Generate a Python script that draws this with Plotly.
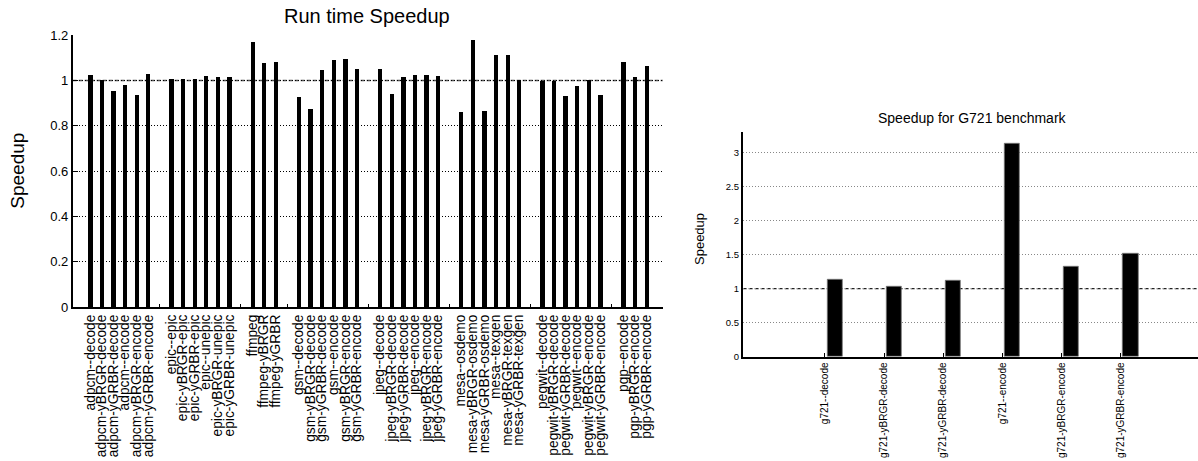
import plotly.graph_objects as go

W, H = 1198, 461

# ---- Left chart data (grouped benchmarks) ----
group_labels = [
    ["adpcm--decode", "adpcm-yBRGR-decode", "adpcm-yGRBR-decode",
     "adpcm--encode", "adpcm-yBRGR-encode", "adpcm-yGRBR-encode"],
    ["epic--epic", "epic-yBRGR-epic", "epic-yGRBR-epic",
     "epic--unepic", "epic-yBRGR-unepic", "epic-yGRBR-unepic"],
    ["ffmpeg", "ffmpeg-yBRGR", "ffmpeg-yGRBR"],
    ["gsm--decode", "gsm-yBRGR-decode", "gsm-yGRBR-decode",
     "gsm--encode", "gsm-yBRGR-encode", "gsm-yGRBR-encode"],
    ["jpeg--decode", "jpeg-yBRGR-decode", "jpeg-yGRBR-decode",
     "jpeg--encode", "jpeg-yBRGR-encode", "jpeg-yGRBR-encode"],
    ["mesa--osdemo", "mesa-yBRGR-osdemo", "mesa-yGRBR-osdemo",
     "mesa--texgen", "mesa-yBRGR-texgen", "mesa-yGRBR-texgen"],
    ["pegwit--decode", "pegwit-yBRGR-decode", "pegwit-yGRBR-decode",
     "pegwit--encode", "pegwit-yBRGR-encode", "pegwit-yGRBR-encode"],
    ["pgp--encode", "pgp-yBRGR-encode", "pgp-yGRBR-encode"],
]
group_values = [
    [1.024, 1.002, 0.953, 0.981, 0.934, 1.028],
    [1.005, 1.006, 1.005, 1.019, 1.014, 1.016],
    [1.171, 1.078, 1.082],
    [0.927, 0.874, 1.046, 1.090, 1.094, 1.051],
    [1.051, 0.940, 1.016, 1.022, 1.024, 1.019],
    [0.861, 1.178, 0.865, 1.112, 1.112, 1.002],
    [0.999, 0.999, 0.931, 0.977, 1.002, 0.937],
    [1.081, 1.016, 1.063],
]

# ---- Right chart data (G721) ----
g721_labels = ["g721--decode", "g721-yBRGR-decode", "g721-yGRBR-decode",
               "g721--encode", "g721-yBRGR-encode", "g721-yGRBR-encode"]
g721_values = [1.128, 1.025, 1.12, 3.128, 1.329, 1.51]

# Build slot positions: one empty slot between groups
xs, ys, labels, all_ticks, all_text = [], [], [], [], []
slot = 0
for gi, (labs, vals) in enumerate(zip(group_labels, group_values)):
    if gi > 0:
        all_ticks.append(slot)
        all_text.append("")
        slot += 1
    for lab, v in zip(labs, vals):
        xs.append(slot)
        ys.append(v)
        labels.append(lab)
        all_ticks.append(slot)
        all_text.append(lab)
        slot += 1

FONT = "Liberation Sans, Arial, sans-serif"

fig = go.Figure()
fig.add_trace(go.Bar(x=xs, y=ys, width=0.37, marker=dict(color="black", line=dict(width=0)),
                     xaxis="x", yaxis="y", showlegend=False))
g_pos = list(range(len(g721_values)))
fig.add_trace(go.Bar(x=g_pos, y=g721_values, width=0.26, offset=0.04,
                     marker=dict(color="black", line=dict(color="#777", width=0.8)),
                     xaxis="x2", yaxis="y2", showlegend=False))

lx0, lx1 = 72.7 / W, 662.7 / W
ly0, ly1 = 1 - 307.3 / H, 1 - 35 / H
rx0, rx1 = 742.7 / W, 1.0
ry0, ry1 = 1 - 356.7 / H, 1 - 131.7 / H

fig.update_layout(
    width=W, height=H,
    margin=dict(l=0, r=0, t=0, b=0, pad=0),
    paper_bgcolor="white", plot_bgcolor="white",
    font=dict(family=FONT, color="black"),
    bargap=0,
    xaxis=dict(domain=[lx0, lx1], anchor="y", range=[-1.5, 49.4], automargin=False,
               tickmode="array", tickvals=all_ticks, ticktext=all_text,
               tickangle=-90, ticks="inside", ticklen=4, tickcolor="black",
               showline=True, linecolor="black", linewidth=1.5,
               showgrid=False, zeroline=False, tickfont=dict(size=13.8)),
    yaxis=dict(domain=[ly0, ly1], anchor="x", range=[0, 1.2], dtick=0.2, automargin=False,
               ticks="inside", ticklen=6, tickcolor="black",
               showline=True, linecolor="black", linewidth=1.5,
               showgrid=True, gridcolor="black", griddash="1px,2px", gridwidth=1,
               zeroline=False, tickfont=dict(size=13)),
    yaxis3=dict(overlaying="y", side="right", anchor="x", range=[0, 1.2], dtick=0.2,
                automargin=False,
                ticks="inside", ticklen=6, tickcolor="black", showline=False,
                showgrid=False, zeroline=False, showticklabels=False),
    xaxis2=dict(domain=[rx0, rx1], anchor="y2", range=[-1.39, 6.31], automargin=False,
                tickmode="array", tickvals=g_pos, ticktext=g721_labels,
                tickangle=-90, ticks="inside", ticklen=4, tickcolor="black",
                showline=True, linecolor="black", linewidth=1.5,
                showgrid=False, zeroline=False, tickfont=dict(size=10)),
    yaxis2=dict(domain=[ry0, ry1], anchor="x2", range=[0, 3.31], dtick=0.5, automargin=False,
                ticks="", showline=True, linecolor="black", linewidth=1.5,
                showgrid=True, gridcolor="#888", griddash="1px,2px", gridwidth=1,
                zeroline=False, tickfont=dict(size=9.5)),
)

# reference lines at speedup = 1
fig.add_shape(type="line", xref="x domain", yref="y", x0=0, x1=1, y0=1, y1=1,
              line=dict(color="#555", width=1.5, dash="4px,2px"), layer="below")
fig.add_shape(type="line", xref="x2 domain", yref="y2", x0=0, x1=1, y0=1, y1=1,
              line=dict(color="#222", width=1.2, dash="4px,2px"), layer="below")

ann = dict(xref="paper", yref="paper", showarrow=False, xanchor="center", yanchor="middle")
fig.add_annotation(text="Run time Speedup", x=367 / W, y=1 - 16 / H,
                   font=dict(size=20), **ann)
fig.add_annotation(text="Speedup", x=16.7 / W, y=1 - 171 / H, textangle=-90,
                   font=dict(size=19), **ann)
fig.add_annotation(text="Speedup for G721 benchmark", x=972 / W, y=1 - 118 / H,
                   font=dict(size=14), **ann)
fig.add_annotation(text="Speedup", x=699 / W, y=1 - 239 / H, textangle=-90,
                   font=dict(size=13), **ann)

fig.write_html("out.html")
